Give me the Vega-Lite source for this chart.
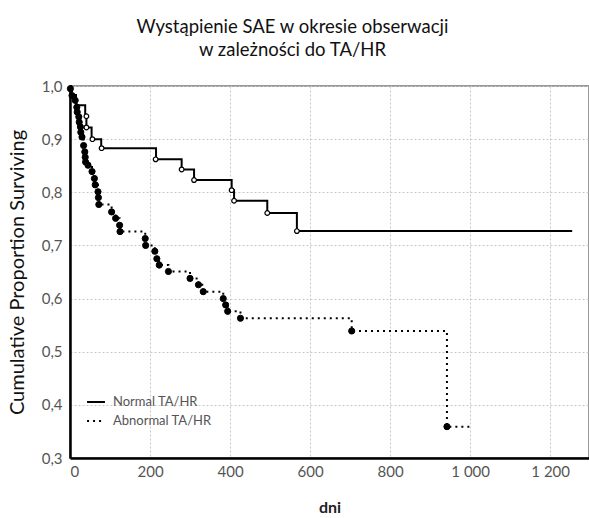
{
  "$schema": "https://vega.github.io/schema/vega-lite/v6.json",
  "autosize": {"type": "none"},
  "padding": {"left": 70, "top": 86, "right": 0, "bottom": 60},
  "width": 519,
  "height": 372,
  "background": "white",
  "title": {
    "text": ["Wystąpienie SAE w okresie obserwacji", "w zależności do TA/HR"],
    "anchor": "middle",
    "frame": "group",
    "dx": -37,
    "offset": 20,
    "font": "Lato",
    "fontSize": 18.5,
    "fontWeight": "normal",
    "color": "#111",
    "lineHeight": 23
  },
  "config": {
    "view": {"stroke": "#777", "strokeWidth": 1.5},
    "font": "Lato",
    "axis": {
      "labelFont": "Lato",
      "titleFont": "Lato",
      "labelColor": "#555",
      "labelFontSize": 15,
      "titleColor": "#111",
      "titleFontWeight": "normal",
      "domainColor": "black",
      "domainWidth": 2.5,
      "ticks": false,
      "gridColor": "#c8c8c8",
      "gridDash": [2, 2],
      "gridWidth": 1
    }
  },
  "datasets": {
    "km": [
      {"group": "Normal TA/HR", "day": 0, "S": 1.0},
      {"group": "Normal TA/HR", "day": 2, "S": 0.983},
      {"group": "Normal TA/HR", "day": 15, "S": 0.964},
      {"group": "Normal TA/HR", "day": 38, "S": 0.943},
      {"group": "Normal TA/HR", "day": 41, "S": 0.922},
      {"group": "Normal TA/HR", "day": 54, "S": 0.9},
      {"group": "Normal TA/HR", "day": 78, "S": 0.883},
      {"group": "Normal TA/HR", "day": 215, "S": 0.862},
      {"group": "Normal TA/HR", "day": 279, "S": 0.843},
      {"group": "Normal TA/HR", "day": 310, "S": 0.823},
      {"group": "Normal TA/HR", "day": 404, "S": 0.804},
      {"group": "Normal TA/HR", "day": 410, "S": 0.784},
      {"group": "Normal TA/HR", "day": 493, "S": 0.761},
      {"group": "Normal TA/HR", "day": 567, "S": 0.727},
      {"group": "Normal TA/HR", "day": 1255, "S": 0.727},
      {"group": "Abnormal TA/HR", "day": 0, "S": 1.0},
      {"group": "Abnormal TA/HR", "day": 5, "S": 0.982},
      {"group": "Abnormal TA/HR", "day": 13, "S": 0.973},
      {"group": "Abnormal TA/HR", "day": 17, "S": 0.96},
      {"group": "Abnormal TA/HR", "day": 18, "S": 0.951},
      {"group": "Abnormal TA/HR", "day": 22, "S": 0.942},
      {"group": "Abnormal TA/HR", "day": 23, "S": 0.932},
      {"group": "Abnormal TA/HR", "day": 26, "S": 0.923},
      {"group": "Abnormal TA/HR", "day": 27, "S": 0.913},
      {"group": "Abnormal TA/HR", "day": 30, "S": 0.904},
      {"group": "Abnormal TA/HR", "day": 34, "S": 0.888},
      {"group": "Abnormal TA/HR", "day": 37, "S": 0.876},
      {"group": "Abnormal TA/HR", "day": 38, "S": 0.866},
      {"group": "Abnormal TA/HR", "day": 39, "S": 0.857},
      {"group": "Abnormal TA/HR", "day": 45, "S": 0.851},
      {"group": "Abnormal TA/HR", "day": 55, "S": 0.839},
      {"group": "Abnormal TA/HR", "day": 61, "S": 0.826},
      {"group": "Abnormal TA/HR", "day": 63, "S": 0.814},
      {"group": "Abnormal TA/HR", "day": 70, "S": 0.801},
      {"group": "Abnormal TA/HR", "day": 71, "S": 0.79},
      {"group": "Abnormal TA/HR", "day": 72, "S": 0.777},
      {"group": "Abnormal TA/HR", "day": 104, "S": 0.763},
      {"group": "Abnormal TA/HR", "day": 114, "S": 0.751},
      {"group": "Abnormal TA/HR", "day": 124, "S": 0.738},
      {"group": "Abnormal TA/HR", "day": 125, "S": 0.726},
      {"group": "Abnormal TA/HR", "day": 188, "S": 0.713},
      {"group": "Abnormal TA/HR", "day": 189, "S": 0.7},
      {"group": "Abnormal TA/HR", "day": 212, "S": 0.689},
      {"group": "Abnormal TA/HR", "day": 217, "S": 0.675},
      {"group": "Abnormal TA/HR", "day": 223, "S": 0.663},
      {"group": "Abnormal TA/HR", "day": 246, "S": 0.651},
      {"group": "Abnormal TA/HR", "day": 300, "S": 0.638},
      {"group": "Abnormal TA/HR", "day": 321, "S": 0.626},
      {"group": "Abnormal TA/HR", "day": 333, "S": 0.613},
      {"group": "Abnormal TA/HR", "day": 383, "S": 0.6},
      {"group": "Abnormal TA/HR", "day": 389, "S": 0.588},
      {"group": "Abnormal TA/HR", "day": 394, "S": 0.576},
      {"group": "Abnormal TA/HR", "day": 426, "S": 0.563},
      {"group": "Abnormal TA/HR", "day": 704, "S": 0.539},
      {"group": "Abnormal TA/HR", "day": 942, "S": 0.359},
      {"group": "Abnormal TA/HR", "day": 1004, "S": 0.359}
    ],
    "marks": [
      {"group": "Normal TA/HR", "day": 41, "S": 0.943},
      {"group": "Normal TA/HR", "day": 41, "S": 0.922},
      {"group": "Normal TA/HR", "day": 56, "S": 0.9},
      {"group": "Normal TA/HR", "day": 79, "S": 0.883},
      {"group": "Normal TA/HR", "day": 214, "S": 0.862},
      {"group": "Normal TA/HR", "day": 279, "S": 0.843},
      {"group": "Normal TA/HR", "day": 310, "S": 0.823},
      {"group": "Normal TA/HR", "day": 404, "S": 0.804},
      {"group": "Normal TA/HR", "day": 410, "S": 0.784},
      {"group": "Normal TA/HR", "day": 493, "S": 0.761},
      {"group": "Normal TA/HR", "day": 567, "S": 0.727},
      {"group": "Abnormal TA/HR", "day": 1, "S": 0.995},
      {"group": "Abnormal TA/HR", "day": 5, "S": 0.982},
      {"group": "Abnormal TA/HR", "day": 13, "S": 0.973},
      {"group": "Abnormal TA/HR", "day": 17, "S": 0.96},
      {"group": "Abnormal TA/HR", "day": 18, "S": 0.951},
      {"group": "Abnormal TA/HR", "day": 22, "S": 0.942},
      {"group": "Abnormal TA/HR", "day": 23, "S": 0.932},
      {"group": "Abnormal TA/HR", "day": 26, "S": 0.923},
      {"group": "Abnormal TA/HR", "day": 27, "S": 0.913},
      {"group": "Abnormal TA/HR", "day": 30, "S": 0.904},
      {"group": "Abnormal TA/HR", "day": 34, "S": 0.888},
      {"group": "Abnormal TA/HR", "day": 37, "S": 0.876},
      {"group": "Abnormal TA/HR", "day": 38, "S": 0.866},
      {"group": "Abnormal TA/HR", "day": 39, "S": 0.857},
      {"group": "Abnormal TA/HR", "day": 45, "S": 0.851},
      {"group": "Abnormal TA/HR", "day": 55, "S": 0.839},
      {"group": "Abnormal TA/HR", "day": 61, "S": 0.826},
      {"group": "Abnormal TA/HR", "day": 63, "S": 0.814},
      {"group": "Abnormal TA/HR", "day": 70, "S": 0.801},
      {"group": "Abnormal TA/HR", "day": 71, "S": 0.79},
      {"group": "Abnormal TA/HR", "day": 72, "S": 0.777},
      {"group": "Abnormal TA/HR", "day": 104, "S": 0.763},
      {"group": "Abnormal TA/HR", "day": 114, "S": 0.751},
      {"group": "Abnormal TA/HR", "day": 124, "S": 0.738},
      {"group": "Abnormal TA/HR", "day": 125, "S": 0.726},
      {"group": "Abnormal TA/HR", "day": 188, "S": 0.713},
      {"group": "Abnormal TA/HR", "day": 189, "S": 0.7},
      {"group": "Abnormal TA/HR", "day": 212, "S": 0.689},
      {"group": "Abnormal TA/HR", "day": 217, "S": 0.675},
      {"group": "Abnormal TA/HR", "day": 223, "S": 0.663},
      {"group": "Abnormal TA/HR", "day": 246, "S": 0.651},
      {"group": "Abnormal TA/HR", "day": 300, "S": 0.638},
      {"group": "Abnormal TA/HR", "day": 321, "S": 0.626},
      {"group": "Abnormal TA/HR", "day": 333, "S": 0.613},
      {"group": "Abnormal TA/HR", "day": 383, "S": 0.6},
      {"group": "Abnormal TA/HR", "day": 389, "S": 0.588},
      {"group": "Abnormal TA/HR", "day": 394, "S": 0.576},
      {"group": "Abnormal TA/HR", "day": 426, "S": 0.563},
      {"group": "Abnormal TA/HR", "day": 704, "S": 0.539},
      {"group": "Abnormal TA/HR", "day": 942, "S": 0.359}
    ]
  },
  "layer": [
    {
      "data": {"name": "km"},
      "mark": {"type": "line", "interpolate": "step-after", "color": "black", "strokeWidth": 2},
      "encoding": {
        "x": {
          "field": "day", "type": "quantitative",
          "scale": {"domain": [0, 1297], "nice": false, "zero": true},
          "axis": {
            "title": "dni",
            "titleFontSize": 16,
            "titlePadding": 20,
            "titleFontWeight": "bold",
            "titleColor": "#222",
            "values": [0, 200, 400, 600, 800, 1000, 1200],
            "labelExpr": "replace(format(datum.value, ','), ',', ' ')",
            "labelPadding": 6,
            "grid": true
          }
        },
        "y": {
          "field": "S", "type": "quantitative",
          "scale": {"domain": [0.3, 1.0], "nice": false, "zero": false},
          "axis": {
            "title": "Cumulative Proportion Surviving",
            "titleFontSize": 20,
            "titlePadding": 14,
            "values": [0.3, 0.4, 0.5, 0.6, 0.7, 0.8, 0.9, 1.0],
            "labelExpr": "replace(format(datum.value, '.1f'), '.', ',')",
            "labelPadding": 8,
            "grid": true
          }
        },
        "strokeDash": {
          "field": "group", "type": "nominal",
          "scale": {"domain": ["Normal TA/HR", "Abnormal TA/HR"], "range": [[1, 0], [2, 4]]},
          "legend": {
            "title": null,
            "orient": "none",
            "legendX": 16,
            "legendY": 306,
            "symbolType": "stroke",
            "symbolStrokeColor": "black",
            "symbolStrokeWidth": 2,
            "symbolSize": 320,
            "labelOffset": 7,
            "labelFont": "Lato",
            "labelFontSize": 13,
            "labelColor": "#555",
            "rowPadding": 2
          }
        },
        "detail": {"field": "group"}
      }
    },
    {
      "data": {"name": "marks"},
      "transform": [{"filter": "datum.group === 'Normal TA/HR'"}],
      "mark": {"type": "point", "shape": "circle", "stroke": "black", "strokeWidth": 1.2, "fill": "white", "filled": false, "opacity": 1, "size": 22},
      "encoding": {
        "x": {"field": "day", "type": "quantitative"},
        "y": {"field": "S", "type": "quantitative"}
      }
    },
    {
      "data": {"name": "marks"},
      "transform": [{"filter": "datum.group === 'Abnormal TA/HR'"}],
      "mark": {"type": "point", "shape": "circle", "stroke": "black", "strokeWidth": 1, "fill": "black", "filled": true, "opacity": 1, "size": 38},
      "encoding": {
        "x": {"field": "day", "type": "quantitative"},
        "y": {"field": "S", "type": "quantitative"}
      }
    }
  ]
}
